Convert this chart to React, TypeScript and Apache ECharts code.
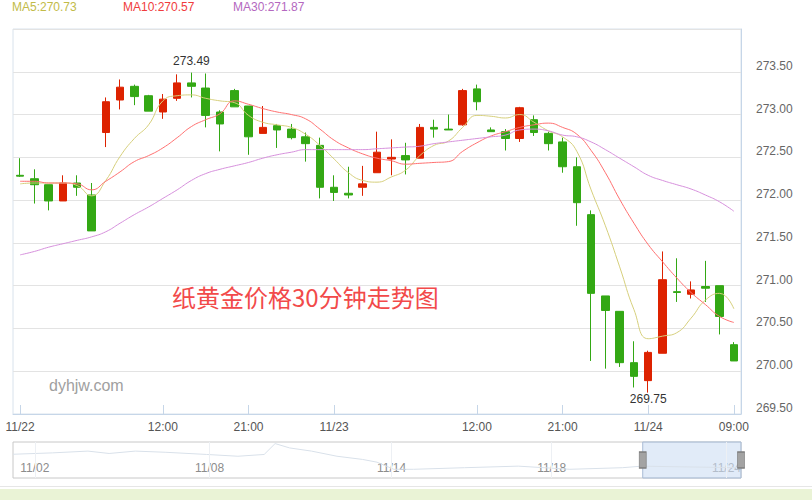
import React, { useEffect, useRef } from "react";
import * as echarts from "echarts";

// 30-minute candles, 11/22 – 11/24
const categories = [
  "11/22 00:00", "11/22 00:30", "11/22 01:00", "11/22 01:30", "11/22 02:00",
  "11/22 09:00", "11/22 09:30", "11/22 10:00", "11/22 10:30", "11/22 11:00",
  "11/22 13:30", "11/22 14:00", "11/22 14:30", "11/22 15:00",
  "11/22 20:00", "11/22 20:30", "11/22 21:00", "11/22 21:30", "11/22 22:00",
  "11/22 22:30", "11/22 23:00", "11/22 23:30",
  "11/23 00:00", "11/23 00:30", "11/23 01:00", "11/23 01:30", "11/23 02:00",
  "11/23 09:00", "11/23 09:30", "11/23 10:00", "11/23 10:30", "11/23 11:00",
  "11/23 13:30", "11/23 14:00", "11/23 14:30", "11/23 15:00",
  "11/23 20:00", "11/23 20:30", "11/23 21:00", "11/23 21:30", "11/23 22:00",
  "11/23 22:30", "11/23 23:00", "11/23 23:30",
  "11/24 00:00", "11/24 00:30", "11/24 01:00", "11/24 01:30", "11/24 02:00",
  "11/24 02:30", "11/24 09:00",
];
const tickIndex = [0, 10, 16, 22, 32, 38, 44, 50];
const tickText = ["11/22", "12:00", "21:00", "11/23", "12:00", "21:00", "11/24", "09:00"];

const opens = [
  272.29, 272.25, 272.18, 271.99, 272.20, 272.06, 272.79, 273.17, 273.33, 273.22,
  273.03, 273.19, 273.37, 273.31, 273.03, 273.28, 273.10, 272.78, 272.87, 272.83,
  272.74, 272.64, 272.15, 272.08, 272.15, 272.32, 272.48, 272.52, 272.49, 272.85,
  272.83, 272.88, 273.30, 272.82, 272.80, 272.72, 272.94, 272.78, 272.68, 272.39,
  271.83, 270.88, 270.70, 270.10, 269.89, 270.21, 270.93, 270.90, 270.99, 271.00,
  270.31,
];
const closes = [
  272.28, 272.18, 271.99, 272.20, 272.15, 271.64, 273.15, 273.32, 273.21, 273.04,
  273.18, 273.37, 273.33, 272.99, 272.89, 273.09, 272.74, 272.85, 272.82, 272.73,
  272.66, 272.15, 272.09, 272.06, 272.19, 272.56, 272.50, 272.47, 272.85, 272.83,
  272.82, 273.28, 273.15, 272.80, 272.72, 273.08, 272.79, 272.66, 272.39, 271.97,
  270.91, 270.71, 270.10, 269.94, 270.22, 271.07, 270.92, 270.95, 270.97, 270.64,
  270.12,
];
const lows = [
  272.27, 271.96, 271.88, 271.99, 272.05, 271.64, 272.62, 273.06, 273.11, 273.04,
  272.95, 273.16, 273.20, 272.85, 272.57, 273.09, 272.53, 272.78, 272.61, 272.71,
  272.45, 272.02, 271.99, 272.02, 272.05, 272.32, 272.29, 272.30, 272.49, 272.73,
  272.82, 272.87, 273.05, 272.80, 272.58, 272.68, 272.75, 272.58, 272.32, 271.70,
  270.12, 270.03, 270.05, 269.81, 269.75, 270.21, 270.81, 270.85, 270.81, 270.43,
  270.12,
];
const highs = [
  272.49, 272.36, 272.18, 272.29, 272.29, 272.20, 273.20, 273.41, 273.35, 273.23,
  273.24, 273.47, 273.49, 273.48, 273.05, 273.30, 273.10, 273.10, 272.89, 272.89,
  272.79, 272.73, 272.29, 272.39, 272.40, 272.80, 272.71, 272.67, 272.89, 272.94,
  273.00, 273.30, 273.35, 272.85, 272.83, 273.09, 272.99, 272.80, 272.73, 272.50,
  271.88, 270.88, 270.70, 270.35, 270.24, 271.40, 271.32, 271.05, 271.29, 271.00,
  270.34,
];

const ma5 = [
  272.19, 272.20, 272.20, 272.20, 272.17, 272.05, 272.23, 272.51, 272.72, 272.88,
  273.16, 273.22, 273.23, 273.19, 273.16, 273.14, 272.99, 272.91, 272.88, 272.85,
  272.77, 272.64, 272.48, 272.32, 272.23, 272.21, 272.27, 272.35, 272.52, 272.64,
  272.69, 272.85, 272.99, 272.98, 272.96, 273.00, 272.91, 272.81, 272.74, 272.57,
  272.12, 271.70, 271.22, 270.72, 270.38, 270.41, 270.45, 270.62, 270.83, 270.91,
  270.73,
];
const ma10 = [
  272.22, 272.22, 272.20, 272.20, 272.19, 272.12, 272.22, 272.33, 272.45, 272.52,
  272.61, 272.73, 272.86, 272.94, 273.01, 273.16, 273.12, 273.07, 273.03, 273.00,
  272.95, 272.83, 272.70, 272.61, 272.54, 272.49, 272.46, 272.42, 272.43, 272.44,
  272.45, 272.57, 272.67, 272.75, 272.80, 272.85, 272.88, 272.90, 272.85, 272.77,
  272.58, 272.32, 272.01, 271.73, 271.48, 271.28, 271.09, 270.92, 270.78, 270.64,
  270.57,
];
const ma30 = [
  271.36, 271.40, 271.45, 271.49, 271.53, 271.57, 271.63, 271.73, 271.83, 271.92,
  272.02, 272.12, 272.23, 272.31, 272.36, 272.40, 272.44, 272.49, 272.53, 272.56,
  272.59, 272.59, 272.59, 272.59, 272.59, 272.60, 272.61, 272.62, 272.63, 272.66,
  272.68, 272.70, 272.72, 272.74, 272.76, 272.82, 272.83, 272.81, 272.76, 272.74,
  272.68, 272.59, 272.49, 272.39, 272.29, 272.23, 272.18, 272.13, 272.06, 271.98,
  271.87,
];

// Overview (whole history 11/02 – 11/24) shown in the zoom strip; x is a 0–100 position
const overviewX = [0, 5.4, 10.3, 13.2, 16.8, 21, 26.6, 30.9, 34.5, 36, 38, 41, 44.5, 48, 50, 52.3, 55, 62, 69.4, 76.5, 83.7, 86.4, 90.8, 100];
const overviewY = [274.4, 274.75, 275.2, 274.6, 275.2, 274.9, 274.35, 273.9, 274.35, 277.1, 276.0, 275.2, 273.9, 273.1, 272.4, 270.6, 270.6, 271.0, 271.4, 270.6, 271.0, 271.4, 271.25, 271.0];
const overviewTickValues = [3, 27, 52, 74, 98];
const overviewTickText = ["11/02", "11/08", "11/14", "11/18", "11/24"];
const windowStart = 86.5;
const windowEnd = 100;
const overviewMin = 268.4;
const overviewMax = 277.5;

const FONT = "'Liberation Sans', Arial, sans-serif";

export default function App() {
  const ref = useRef<HTMLDivElement>(null);

  useEffect(() => {
    const chart = echarts.init(ref.current!, null, { renderer: "svg" });
    const kData = categories.map((_, i) => [opens[i], closes[i], lows[i], highs[i]]);
    const last = (a: number[]) => a[a.length - 1].toFixed(2);
    const sliderMid = (overviewMin + overviewMax) / 2;

    const option: any = {
      animation: false,
      backgroundColor: "#ffffff",
      textStyle: { fontFamily: FONT },
      title: {
        text: "纸黄金价格30分钟走势图",
        left: 172,
        top: 284,
        padding: 0,
        textStyle: {
          color: "#f24a4a",
          fontSize: 24,
          fontWeight: "normal",
          fontFamily: "'Noto Sans CJK SC', sans-serif",
        },
      },
      graphic: [
        { type: "text", left: 12, top: 1, style: { text: "MA5:" + last(ma5), fill: "#c2bb48", font: "12px " + FONT } },
        { type: "text", left: 123, top: 1, style: { text: "MA10:" + last(ma10), fill: "#f03c3c", font: "12px " + FONT } },
        { type: "text", left: 233, top: 1, style: { text: "MA30:" + last(ma30), fill: "#b468c0", font: "12px " + FONT } },
        { type: "text", left: 49, top: 377, style: { text: "dyhjw.com", fill: "#a0a0a0", font: "16px " + FONT } },
        { type: "rect", left: 0, top: 486, shape: { width: 812, height: 1 }, style: { fill: "#e6e6e6" } },
        { type: "rect", left: 0, top: 489, shape: { width: 812, height: 11 }, style: { fill: "#eaf3d6" } },
      ],
      grid: [
        { left: 13, right: 71, top: 29, height: 385, show: true, borderColor: "#d8e2ec", borderWidth: 1 },
        { left: 13, right: 71, top: 442, height: 36, show: true, borderColor: "#c8c8c8", borderWidth: 1, backgroundColor: "#ffffff" },
      ],
      xAxis: [
        {
          type: "category",
          gridIndex: 0,
          data: categories,
          boundaryGap: true,
          axisLine: { lineStyle: { color: "#c6d6e8" } },
          axisTick: {
            show: true,
            inside: true,
            length: 9,
            alignWithLabel: true,
            interval: (i: number) => tickIndex.includes(i),
            lineStyle: { color: "#c6d6e8" },
          },
          axisLabel: {
            interval: (i: number) => tickIndex.includes(i),
            formatter: (_v: string, i: number) => {
              const k = tickIndex.indexOf(i);
              return k >= 0 ? tickText[k] : "";
            },
            color: "#555",
            fontSize: 12,
            margin: 7,
          },
          splitLine: { show: false },
        },
        {
          type: "value",
          gridIndex: 1,
          min: 0,
          max: 100,
          interval: 1,
          axisLine: { show: false },
          axisTick: { show: false },
          splitLine: { show: false },
          axisLabel: {
            inside: true,
            margin: 4,
            color: "#8c8c8c",
            fontSize: 12,
            showMinLabel: true,
            showMaxLabel: true,
            formatter: (v: number) => {
              const k = overviewTickValues.indexOf(Math.round(v * 100) / 100);
              return k >= 0 ? overviewTickText[k] : "";
            },
          },
        },
      ],
      yAxis: [
        {
          type: "value",
          gridIndex: 0,
          position: "right",
          min: 269.5,
          max: 274,
          interval: 0.5,
          axisLine: { show: true, lineStyle: { color: "#c6d6e8" } },
          axisTick: { show: false },
          splitLine: { lineStyle: { color: "#e3e3e3", width: 1 } },
          axisLabel: {
            showMaxLabel: false,
            formatter: (v: number) => v.toFixed(2),
            color: "#666",
            fontSize: 12,
            margin: 15,
            verticalAlign: "bottom",
          },
        },
        {
          type: "value",
          gridIndex: 1,
          min: overviewMin,
          max: overviewMax,
          show: false,
          splitLine: { show: false },
        },
      ],
      series: [
        {
          name: "K",
          type: "candlestick",
          xAxisIndex: 0,
          yAxisIndex: 0,
          data: kData,
          barWidth: 8,
          itemStyle: {
            color: "#dd2200",
            color0: "#33a814",
            borderColor: "#dd2200",
            borderColor0: "#33a814",
            borderWidth: 1,
          },
          markPoint: {
            symbol: "circle",
            symbolSize: 1,
            itemStyle: { color: "rgba(0,0,0,0)" },
            label: {
              show: true,
              color: "#333",
              fontSize: 12,
              formatter: (p: any) => Number(p.value).toFixed(2),
            },
            data: [
              { type: "max", valueDim: "highest", label: { position: "top", distance: 5 } },
              { type: "min", valueDim: "lowest", label: { position: "bottom", distance: 0 } },
            ],
          },
        },
        {
          name: "MA5",
          type: "line",
          data: ma5,
          smooth: true,
          symbol: "none",
          lineStyle: { color: "#d6cf7c", width: 1 },
          itemStyle: { color: "#d6cf7c" },
        },
        {
          name: "MA10",
          type: "line",
          data: ma10,
          smooth: true,
          symbol: "none",
          lineStyle: { color: "#ff7070", width: 1 },
          itemStyle: { color: "#ff7070" },
        },
        {
          name: "MA30",
          type: "line",
          data: ma30,
          smooth: true,
          symbol: "none",
          lineStyle: { color: "#d690dc", width: 1 },
          itemStyle: { color: "#d690dc" },
        },
        {
          name: "overview",
          type: "line",
          xAxisIndex: 1,
          yAxisIndex: 1,
          data: overviewX.map((x, i) => [x, overviewY[i]]),
          symbol: "none",
          lineStyle: { color: "#d9e1ea", width: 1 },
          markLine: {
            silent: true,
            symbol: ["none", "none"],
            label: { show: false },
            lineStyle: { color: "#edf0f4", type: "solid", width: 1 },
            data: overviewTickValues.map((v) => ({ xAxis: v })),
          },
          markArea: {
            silent: true,
            itemStyle: { color: "rgba(205,222,244,0.6)", borderColor: "#a9bcd5", borderWidth: 1 },
            data: [[{ xAxis: windowStart }, { xAxis: windowEnd }]],
          },
          markPoint: {
            silent: true,
            symbol: "rect",
            symbolSize: [7, 16],
            label: { show: false },
            itemStyle: { color: "#a3a3a3", borderColor: "#7d7d7d", borderWidth: 1 },
            data: [{ coord: [windowStart, sliderMid] }, { coord: [windowEnd, sliderMid] }],
          },
        },
      ],
    };

    chart.setOption(option);
    return () => chart.dispose();
  }, []);

  return (
    <div
      ref={ref}
      style={{ position: "fixed", left: 0, top: 0, width: 812, height: 500, background: "#fff" }}
    />
  );
}
